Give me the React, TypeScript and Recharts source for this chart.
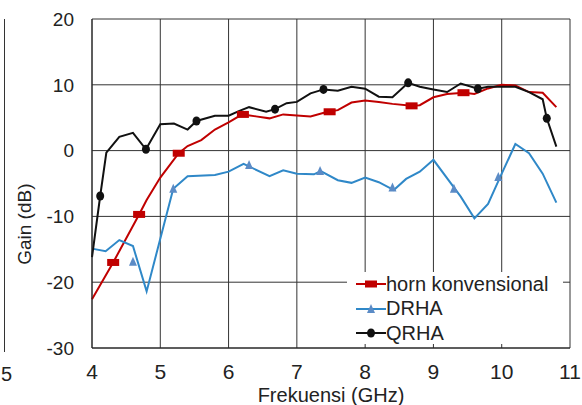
import React from 'react'
import {
  ComposedChart,
  Line,
  Scatter,
  XAxis,
  YAxis,
  CartesianGrid,
  Legend,
} from 'recharts'

interface Pt {
  x: number
  y: number
}

// Gain curves (GHz, dB)
const hornLine: Pt[] = [
  { x: 4.0, y: -22.6 }, { x: 4.31, y: -17.0 }, { x: 4.69, y: -9.7 }, { x: 4.8, y: -7.5 },
  { x: 5.0, y: -4.1 }, { x: 5.27, y: -0.4 }, { x: 5.4, y: 0.7 }, { x: 5.6, y: 1.6 },
  { x: 5.8, y: 3.2 }, { x: 6.0, y: 4.3 }, { x: 6.2, y: 5.5 }, { x: 6.4, y: 5.2 },
  { x: 6.6, y: 4.9 }, { x: 6.8, y: 5.5 }, { x: 7.2, y: 5.2 }, { x: 7.45, y: 5.9 },
  { x: 7.6, y: 6.15 }, { x: 7.8, y: 7.3 }, { x: 8.0, y: 7.6 }, { x: 8.2, y: 7.4 },
  { x: 8.4, y: 7.1 }, { x: 8.68, y: 6.8 }, { x: 8.8, y: 6.9 }, { x: 9.0, y: 8.1 },
  { x: 9.2, y: 8.6 }, { x: 9.45, y: 8.8 }, { x: 9.6, y: 8.6 }, { x: 9.8, y: 9.45 },
  { x: 10.0, y: 10.0 }, { x: 10.2, y: 9.9 }, { x: 10.4, y: 8.9 }, { x: 10.6, y: 8.8 },
  { x: 10.8, y: 6.6 },
]
const hornMarks: Pt[] = [
  { x: 4.31, y: -17.0 }, { x: 4.69, y: -9.7 }, { x: 5.27, y: -0.4 }, { x: 6.21, y: 5.5 },
  { x: 7.48, y: 5.9 }, { x: 8.68, y: 6.8 }, { x: 9.44, y: 8.8 },
]

const drhaLine: Pt[] = [
  { x: 4.0, y: -14.9 }, { x: 4.2, y: -15.3 }, { x: 4.4, y: -13.6 }, { x: 4.6, y: -14.5 },
  { x: 4.8, y: -21.4 }, { x: 5.19, y: -5.8 }, { x: 5.4, y: -3.9 }, { x: 5.8, y: -3.7 },
  { x: 6.0, y: -3.2 }, { x: 6.22, y: -2.0 }, { x: 6.6, y: -3.9 }, { x: 6.8, y: -3.0 },
  { x: 7.0, y: -3.5 }, { x: 7.25, y: -3.6 }, { x: 7.35, y: -3.1 }, { x: 7.6, y: -4.5 },
  { x: 7.8, y: -4.9 }, { x: 8.0, y: -4.1 }, { x: 8.2, y: -4.8 }, { x: 8.42, y: -6.0 },
  { x: 8.6, y: -4.3 }, { x: 8.8, y: -3.2 }, { x: 9.0, y: -1.4 }, { x: 9.4, y: -7.0 },
  { x: 9.6, y: -10.3 }, { x: 9.8, y: -8.1 }, { x: 10.0, y: -3.5 }, { x: 10.2, y: 1.0 },
  { x: 10.4, y: -0.4 }, { x: 10.6, y: -3.5 }, { x: 10.8, y: -7.9 },
]
const drhaMarks: Pt[] = [
  { x: 4.6, y: -16.9 }, { x: 5.19, y: -5.8 }, { x: 6.3, y: -2.2 }, { x: 7.34, y: -3.1 },
  { x: 8.4, y: -5.6 }, { x: 9.3, y: -5.8 }, { x: 9.95, y: -4.0 },
]

const qrhaLine: Pt[] = [
  { x: 4.0, y: -16.2 }, { x: 4.12, y: -6.9 }, { x: 4.21, y: -0.3 }, { x: 4.4, y: 2.1 },
  { x: 4.6, y: 2.7 }, { x: 4.79, y: 0.2 }, { x: 5.0, y: 4.0 }, { x: 5.2, y: 4.1 },
  { x: 5.4, y: 3.2 }, { x: 5.53, y: 4.5 }, { x: 5.8, y: 5.3 }, { x: 6.0, y: 5.3 },
  { x: 6.15, y: 6.0 }, { x: 6.3, y: 6.6 }, { x: 6.55, y: 5.9 }, { x: 6.68, y: 6.3 },
  { x: 6.85, y: 7.2 }, { x: 7.0, y: 7.4 }, { x: 7.2, y: 8.7 }, { x: 7.39, y: 9.3 },
  { x: 7.6, y: 9.1 }, { x: 7.8, y: 9.7 }, { x: 8.0, y: 9.4 }, { x: 8.2, y: 8.2 },
  { x: 8.4, y: 8.1 }, { x: 8.63, y: 10.3 }, { x: 8.8, y: 9.7 }, { x: 9.0, y: 9.3 },
  { x: 9.2, y: 8.9 }, { x: 9.4, y: 10.2 }, { x: 9.65, y: 9.4 }, { x: 9.8, y: 9.7 },
  { x: 10.2, y: 9.7 }, { x: 10.4, y: 8.9 }, { x: 10.6, y: 7.8 }, { x: 10.66, y: 4.9 },
  { x: 10.8, y: 0.6 },
]
const qrhaMarks: Pt[] = [
  { x: 4.12, y: -6.9 }, { x: 4.79, y: 0.2 }, { x: 5.53, y: 4.5 }, { x: 6.68, y: 6.3 },
  { x: 7.39, y: 9.3 }, { x: 8.63, y: 10.3 }, { x: 9.65, y: 9.4 }, { x: 10.66, y: 4.9 },
]

const xTicks = [4, 5, 6, 7, 8, 9, 10, 11]
const yTicks = [-30, -20, -10, 0, 10, 20]

const RED = '#C00000'
const BLUE = '#2F88C8'
const BLUE_MARK = '#5B8BC6'
const BLACK = '#111111'
const FONT = '"Liberation Sans", Arial, sans-serif'

const Square = ({ cx, cy }: any) => <rect x={cx - 6} y={cy - 3.5} width={12} height={7} fill={RED} />
const Triangle = ({ cx, cy }: any) => (
  <polygon points={`${cx},${cy - 5} ${cx - 4},${cy + 4} ${cx + 4},${cy + 4}`} fill={BLUE_MARK} />
)
const Dot = ({ cx, cy }: any) => <ellipse cx={cx} cy={cy} rx={4} ry={4.5} fill={BLACK} />

const legendItems = [
  { name: 'horn konvensional', color: RED, mark: 'square' },
  { name: 'DRHA', color: BLUE, mark: 'triangle' },
  { name: 'QRHA', color: BLACK, mark: 'dot' },
]

function renderLegend() {
  return (
    <div style={{ background: '#fff', width: 216, height: 72, fontFamily: FONT }}>
      {legendItems.map((it) => (
        <div key={it.name} style={{ display: 'flex', alignItems: 'center', height: 24.5 }}>
          <svg width={39} height={14} style={{ flex: 'none' }}>
            <line x1={9} y1={7} x2={39} y2={7} stroke={it.color} strokeWidth={2} />
            {it.mark === 'square' && <Square cx={24} cy={7} />}
            {it.mark === 'triangle' && <Triangle cx={24} cy={7} />}
            {it.mark === 'dot' && <Dot cx={24} cy={7} />}
          </svg>
          <span style={{ fontSize: 20, color: '#222', whiteSpace: 'nowrap' }}>{it.name}</span>
        </div>
      ))}
    </div>
  )
}

export default function App() {
  return (
    <div style={{ position: 'absolute', left: 0, top: 0, width: 582, height: 405, background: '#fff', overflow: 'hidden' }}>
      {/* edge of the neighbouring chart, cropped in the original */}
      <div style={{ position: 'absolute', left: 4, top: 19, width: 1, height: 333, background: '#333' }} />
      <span style={{ position: 'absolute', left: 1, top: 363, fontFamily: FONT, fontSize: 20, color: '#222' }}>5</span>
      <ComposedChart width={582} height={405} margin={{ top: 19, right: 12, left: 32, bottom: 27 }}>
        <CartesianGrid stroke="#333" strokeWidth={1} />
        <XAxis
          type="number"
          dataKey="x"
          domain={[4, 11]}
          ticks={xTicks}
          height={30}
          tickLine={false}
          tickSize={0}
          tickMargin={16}
          axisLine={{ stroke: '#222' }}
          tick={{ fill: '#222', fontSize: 21, fontFamily: FONT }}
          label={{ value: 'Frekuensi (GHz)', position: 'bottom', offset: 10, fill: '#222', fontSize: 20, fontFamily: FONT }}
        />
        <YAxis
          type="number"
          domain={[-30, 20]}
          ticks={yTicks}
          width={60}
          tickLine={false}
          tickSize={0}
          tickMargin={18}
          axisLine={{ stroke: '#222' }}
          tick={{ fill: '#222', fontSize: 19, fontFamily: FONT }}
          label={{ value: 'Gain (dB)', angle: -90, position: 'left', offset: 8, fill: '#222', fontSize: 19, fontFamily: FONT }}
        />
        <Line data={hornLine} dataKey="y" stroke={RED} strokeWidth={2} dot={false} isAnimationActive={false} />
        <Line data={drhaLine} dataKey="y" stroke={BLUE} strokeWidth={2} dot={false} isAnimationActive={false} />
        <Line data={qrhaLine} dataKey="y" stroke={BLACK} strokeWidth={2} dot={false} isAnimationActive={false} />
        <Scatter data={hornMarks} dataKey="y" shape={Square} isAnimationActive={false} />
        <Scatter data={drhaMarks} dataKey="y" shape={Triangle} isAnimationActive={false} />
        <Scatter data={qrhaMarks} dataKey="y" shape={Dot} isAnimationActive={false} />
        <Legend
          layout="horizontal"
          align="center"
          verticalAlign="middle"
          content={renderLegend}
          wrapperStyle={{ left: 347, top: 272, width: 216, height: 74 }}
        />
      </ComposedChart>
    </div>
  )
}
